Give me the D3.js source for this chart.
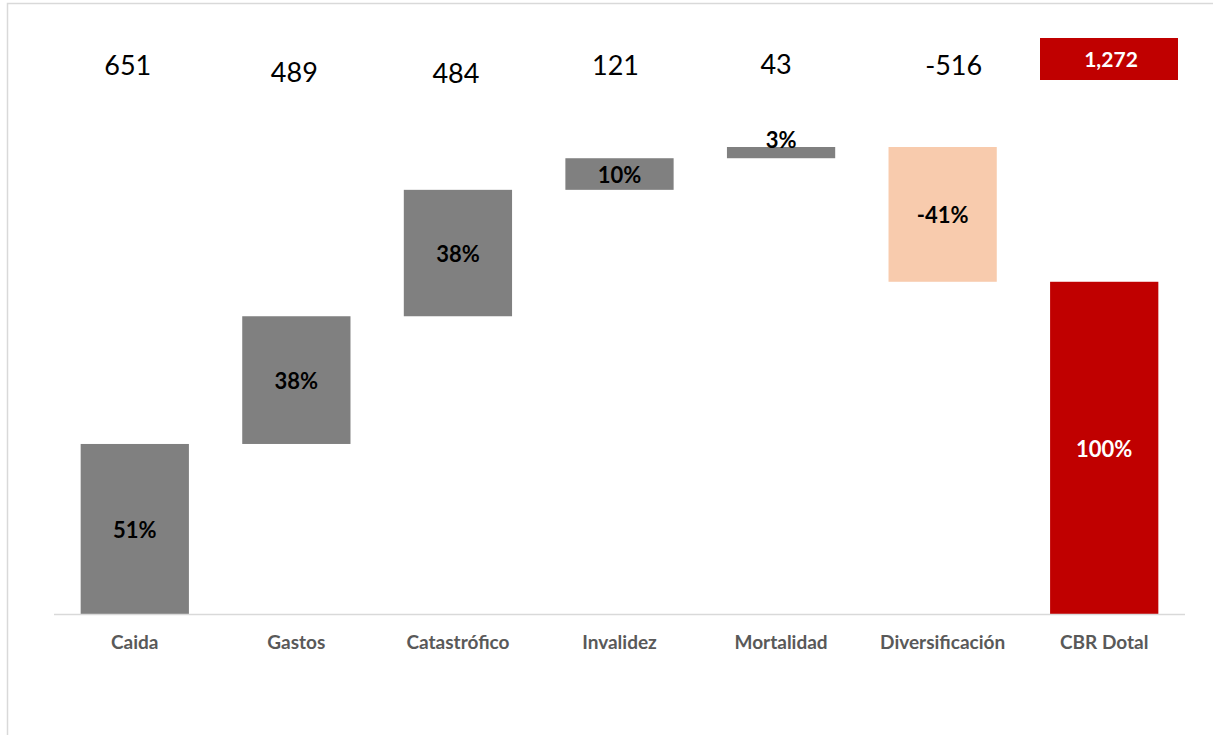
<!DOCTYPE html>
<html><head><meta charset="utf-8">
<script src="https://cdn.jsdelivr.net/npm/d3@7"></script>
<style>
html,body{margin:0;padding:0;background:#fff;}
svg{display:block;}
</style></head>
<body>
<svg id="chart" width="1213" height="735"></svg>
<script>
const categories = ["Caida","Gastos","Catastrófico","Invalidez","Mortalidad","Diversificación","CBR Dotal"];
const values = [651, 489, 484, 121, 43, -516, 1272];
const isTotal = [false,false,false,false,false,false,true];
const valueLabels = ["651","489","484","121","43","-516","1,272"];
const pctLabels = ["51%","38%","38%","10%","3%","-41%","100%"];

const svg = d3.select("#chart");
const W = 1213, H = 735;
const font = "Lato, 'Open Sans', sans-serif";

// outer border
svg.append("rect").attr("x",7.5).attr("y",3.5).attr("width",W+20).attr("height",H+20)
  .attr("fill","#fff").attr("stroke","#d9d9d9").attr("stroke-width",1.5);

const x = d3.scaleBand().domain(categories).range([54,1185]).paddingInner(0.33).paddingOuter(0.165);
const y = d3.scaleLinear().domain([0,1788]).range([614,147]);

// compute waterfall segments
let run = 0;
const segs = categories.map((c,i)=>{
  let y0,y1;
  if (isTotal[i]) { y0 = 0; y1 = values[i]; }
  else { y0 = run; y1 = run + values[i]; run = y1; }
  return {c, i, lo: Math.min(y0,y1), hi: Math.max(y0,y1), v: values[i]};
});

const color = d => isTotal[d.i] ? "#c00000" : (d.v < 0 ? "#f8cbad" : "#808080");

svg.selectAll("rect.bar").data(segs).enter().append("rect")
  .attr("class","bar")
  .attr("x",d=>x(d.c)).attr("width",x.bandwidth())
  .attr("y",d=>y(d.hi)).attr("height",d=>y(d.lo)-y(d.hi))
  .attr("fill",color);

// axis line
svg.append("line").attr("x1",54).attr("x2",1185).attr("y1",614.5).attr("y2",614.5)
  .attr("stroke","#d9d9d9").attr("stroke-width",1.5);

// category labels
const xAxis = d3.axisBottom(x).tickSize(0).tickPadding(0);
const gx = svg.append("g").attr("transform","translate(0,614)").call(xAxis);
gx.select(".domain").remove();
gx.selectAll("text").attr("y",35).attr("dy",0)
  .style("font-family",font).style("font-size","19px").style("font-weight","bold").attr("fill","#595959");

// percentage labels
svg.selectAll("text.pct").data(segs).enter().append("text")
  .attr("class","pct")
  .attr("x",d=>x(d.c)+x.bandwidth()/2)
  .attr("y",d=> (y(d.lo)-y(d.hi)) < 25 ? y(d.hi)+1 : (y(d.hi)+y(d.lo))/2 + 9)
  .attr("text-anchor","middle")
  .style("font-family",font).style("font-size","22px").style("font-weight","bold")
  .attr("fill",d=>isTotal[d.i] ? "#ffffff" : "#000000")
  .text((d,i)=>pctLabels[i]);

// top value labels (manually placed text boxes in the original)
const dyTop = [0,7,8,0,-1,0,0];
const dxTop = [-7,-2,-2,-4,-5,11,0];
segs.forEach((d,i)=>{
  const cx = x(d.c)+x.bandwidth()/2;
  if (isTotal[i]) {
    svg.append("rect").attr("x",1040).attr("y",38).attr("width",138).attr("height",42).attr("fill","#c00000");
    svg.append("text").attr("x",1111).attr("y",67).attr("text-anchor","middle")
      .style("font-family",font).style("font-size","21px").style("font-weight","bold")
      .attr("fill","#fff").text(valueLabels[i]);
  } else {
    svg.append("text").attr("x",cx+dxTop[i]).attr("y",75+dyTop[i]).attr("text-anchor","middle")
      .style("font-family",font).style("font-size","27px")
      .attr("fill","#000").text(valueLabels[i]);
  }
});
</script>
</body></html>
